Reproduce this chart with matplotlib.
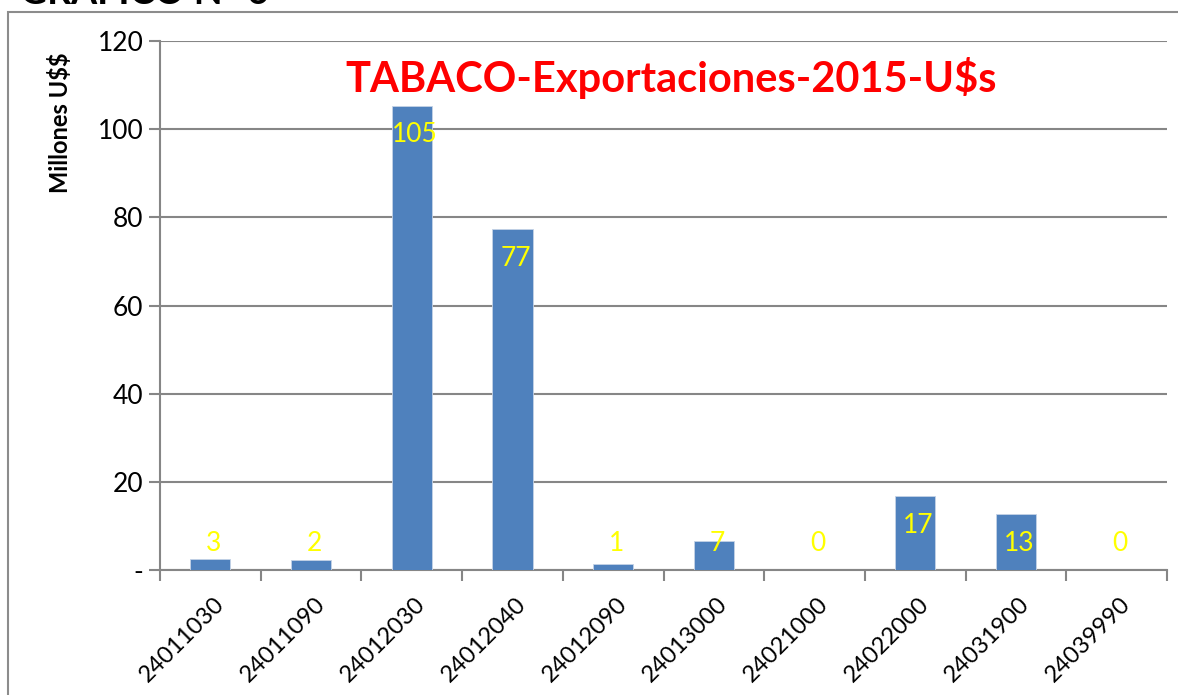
import matplotlib
matplotlib.use("Agg")
from matplotlib import pyplot
from matplotlib.patches import Rectangle

# tabaco exportaciones 2015, millones de U$s
codes = ["24011030", "24011090", "24012030", "24012040", "24012090",
         "24013000", "24021000", "24022000", "24031900", "24039990"]
values = [2.6, 2.2, 105.3, 77.3, 1.4, 6.6, 0.05, 16.8, 12.6, 0.05]
yticks = [0, 20, 40, 60, 80, 100, 120]
yticklabels = ["-", "20", "40", "60", "80", "100", "120"]

pyplot.rcParams["font.family"] = ["Lato", "DejaVu Sans"]
pyplot.rcParams["text.parse_math"] = False

fig = pyplot.figure(figsize=(11.78, 6.95), dpi=100)

# outer chart frame, partly cut like the screenshot
fig.patches.append(Rectangle((8 / 1178, -0.1), 1.2, (695 - 12) / 695 + 0.1,
                             transform=fig.transFigure, fill=False,
                             edgecolor="#8c8c8c", linewidth=1.5))
fig.text(20 / 1178, 1 - 4 / 695, "GRÁFICO N° 6", fontsize=27, fontweight="bold",
         ha="left", va="baseline")

ax = fig.add_axes([160 / 1178, 125 / 695, 1007 / 1178, 529 / 695])
x = list(range(len(codes)))
ax.bar(x, values, width=0.4, color="#4F81BD", edgecolor="#c5d3e6", linewidth=0.6, zorder=3)

for xi, v in zip(x, values):
    ax.text(xi + 0.03, max(v - 6.6, 6.1), "{:.0f}".format(v), color="#FFFF00",
            fontsize=19, ha="center", va="center", zorder=4)

ax.set_xlim(-0.5, len(codes) - 0.5)
ax.set_ylim(0, 120)
ax.set_yticks(yticks)
ax.set_yticklabels(yticklabels)
ax.set_xticks([i - 0.5 for i in range(len(codes) + 1)], minor=False)
ax.set_xticklabels([])
ax.set_xticks([i + 0.03 for i in x], minor=True)
ax.set_xticklabels(codes, minor=True, rotation=45, ha="right", rotation_mode="anchor")
ax.tick_params(axis="x", which="minor", length=0, pad=17, labelsize=17)
ax.tick_params(axis="x", which="major", length=8, width=1.5, color="#868686", direction="out")
ax.tick_params(axis="y", length=8, width=1.5, color="#868686", labelsize=19, pad=4)

ax.grid(visible=True, axis="y", color="#868686", linewidth=1.5, zorder=0)
ax.set_axisbelow(True)
for side in ["top", "right"]:
    ax.spines[side].set_visible(False)
for side in ["left", "bottom"]:
    ax.spines[side].set_color("#868686")
    ax.spines[side].set_linewidth(1.5)

ax.text(0.508, 0.93, "TABACO-Exportaciones-2015-U$s", transform=ax.transAxes,
        color="#FF0000", fontsize=30, fontweight="bold", ha="center", va="center")

fig.text(60 / 1178, 1 - 123 / 695, "Millones U$$", rotation=90, fontsize=17,
         fontweight="bold", ha="center", va="center")

fig.savefig("out.png", dpi=100)
